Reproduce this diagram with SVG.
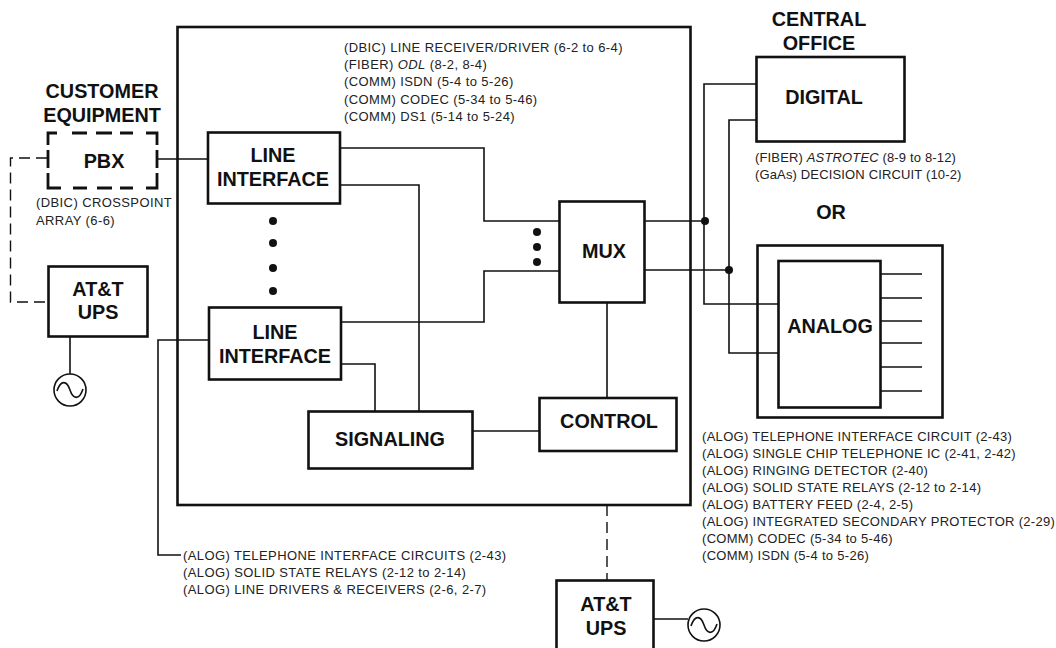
<svg xmlns="http://www.w3.org/2000/svg" width="1056" height="648" viewBox="0 0 1056 648">
<style>
text{font-family:"Liberation Sans",Arial,sans-serif;fill:#111}
.b{font-size:19.8px;font-weight:bold;text-anchor:middle}
.s{font-size:13px;letter-spacing:.4px;fill:#222}
.n{letter-spacing:.3px}
.d{letter-spacing:.15px}
.box{fill:none;stroke:#111;stroke-width:2.6}
.thin{fill:none;stroke:#111;stroke-width:1.6}
.dash{fill:none;stroke:#111;stroke-width:1.4;stroke-dasharray:11 6}
.pbx{fill:none;stroke:#111;stroke-width:2.8}
.dot{fill:#111}
</style>
<rect width="1056" height="648" fill="#fff"/>
<g id="connectors">
<path class="thin" d="M157 159H207M340 148H484V221H559M340 185H419V411M341 322H484V271H559M341 364H375V411M208 340H158V555H181M473 431H539M607 302V397M645 221H705M645 270H729M704 221V84H756M704 221V304H778M729 270V120H756M729 270V353H778M70 336V374M654 619H688"/>
<path class="thin" d="M881 274H922M881 298H922M881 321H922M881 343H922M881 367H922M881 391H922"/>
<path class="dash" d="M47 158H10.500V302H48M607 505V580"/>
<circle class="dot" cx="705" cy="221" r="4"/>
<circle class="dot" cx="729" cy="270" r="4"/>
</g>
<g id="system"><rect class="box" x="177.500" y="27" width="513" height="478"/></g>
<g id="customer-label"><text class="b" x="102" y="98">CUSTOMER</text><text class="b" x="102" y="122">EQUIPMENT</text></g>
<g id="pbx"><path class="pbx" d="M48 145V133H57M72 133H87M96 133H112M120 133H133M146 133H157V145M157 150V168M157 173V188H146M133 188H120M112 188H97M87 188H73M61 188H48V173M48 168V150"/><text class="b" x="104" y="168">PBX</text>
<text class="s" x="36" y="207">(DBIC) CROSSPOINT</text><text class="s" x="36" y="225">ARRAY (6-6)</text></g>
<g id="ups1"><rect class="box" x="48.500" y="266.500" width="99" height="70"/><text class="b" x="98" y="296">AT&amp;T</text><text class="b" x="98" y="319">UPS</text></g>
<g id="ac1"><circle class="thin" cx="70" cy="390" r="16"/><path class="thin" d="M57 391C61 379 67 381 70 390S79 401 83 389"/></g>
<g id="line-interface-1"><rect class="box" x="208" y="132.500" width="132" height="71"/><text class="b" x="273" y="162">LINE</text><text class="b" x="273" y="186">INTERFACE</text></g>
<g id="line-interface-2"><rect class="box" x="209" y="307.500" width="132" height="72"/><text class="b" x="275" y="339">LINE</text><text class="b" x="275" y="363">INTERFACE</text></g>
<g id="dots1"><circle class="dot" cx="273" cy="221" r="4"/><circle class="dot" cx="273" cy="243" r="4"/><circle class="dot" cx="273" cy="268" r="4"/><circle class="dot" cx="273" cy="291" r="4"/></g>
<g id="dots2"><circle class="dot" cx="537" cy="232" r="4"/><circle class="dot" cx="537" cy="247" r="4"/><circle class="dot" cx="537" cy="262" r="4"/></g>
<g id="mux"><rect class="box" x="559.500" y="201.500" width="85" height="101"/><text class="b" x="604" y="258">MUX</text></g>
<g id="signaling"><rect class="box" x="308.500" y="411.500" width="164" height="57"/><text class="b" x="390" y="446">SIGNALING</text></g>
<g id="control"><rect class="box" x="539.500" y="398" width="137" height="53"/><text class="b" x="609" y="428">CONTROL</text></g>
<g id="ups2"><rect class="box" x="556.500" y="580.500" width="97" height="72"/><text class="b" x="606" y="611">AT&amp;T</text><text class="b" x="606" y="635">UPS</text></g>
<g id="ac2"><circle class="thin" cx="704" cy="625" r="16"/><path class="thin" d="M691 626C695 614 701 616 704 625S713 636 717 624"/></g>
<g id="central-office-label"><text class="b" x="819" y="26">CENTRAL</text><text class="b" x="819" y="50">OFFICE</text></g>
<g id="digital"><rect class="box" x="756.500" y="57" width="148" height="84.500"/><text class="b" x="824" y="104">DIGITAL</text>
<text class="s d" x="755" y="162">(FIBER) <tspan font-style="italic">ASTROTEC</tspan> (8-9 to 8-12)</text><text class="s d" x="755" y="179">(GaAs) DECISION CIRCUIT (10-2)</text></g>
<text class="b" x="831" y="219">OR</text>
<g id="analog"><rect class="box" x="757.500" y="245.500" width="185" height="172"/><rect class="box" x="778.500" y="261" width="102" height="146.500"/><text class="b" x="830" y="333">ANALOG</text></g>
<g id="top-notes"><text class="s" x="344" y="52">(DBIC) LINE RECEIVER/DRIVER (6-2 to 6-4)</text><text class="s" x="344" y="69">(FIBER) <tspan font-style="italic">ODL</tspan> (8-2, 8-4)</text><text class="s" x="344" y="86">(COMM) ISDN (5-4 to 5-26)</text><text class="s" x="344" y="104">(COMM) CODEC (5-34 to 5-46)</text><text class="s" x="344" y="121">(COMM) DS1 (5-14 to 5-24)</text></g>
<g id="right-notes"><text class="s n" x="702" y="441">(ALOG) TELEPHONE INTERFACE CIRCUIT (2-43)</text><text class="s n" x="702" y="458">(ALOG) SINGLE CHIP TELEPHONE IC (2-41, 2-42)</text><text class="s n" x="702" y="475">(ALOG) RINGING DETECTOR (2-40)</text><text class="s n" x="702" y="492">(ALOG) SOLID STATE RELAYS (2-12 to 2-14)</text><text class="s n" x="702" y="509">(ALOG) BATTERY FEED (2-4, 2-5)</text><text class="s n" x="702" y="526">(ALOG) INTEGRATED SECONDARY PROTECTOR (2-29)</text><text class="s n" x="702" y="543">(COMM) CODEC (5-34 to 5-46)</text><text class="s n" x="702" y="560">(COMM) ISDN (5-4 to 5-26)</text></g>
<g id="bottom-notes"><text class="s" x="183" y="560">(ALOG) TELEPHONE INTERFACE CIRCUITS (2-43)</text><text class="s" x="183" y="577">(ALOG) SOLID STATE RELAYS (2-12 to 2-14)</text><text class="s" x="183" y="594">(ALOG) LINE DRIVERS &amp; RECEIVERS (2-6, 2-7)</text></g>
</svg>
